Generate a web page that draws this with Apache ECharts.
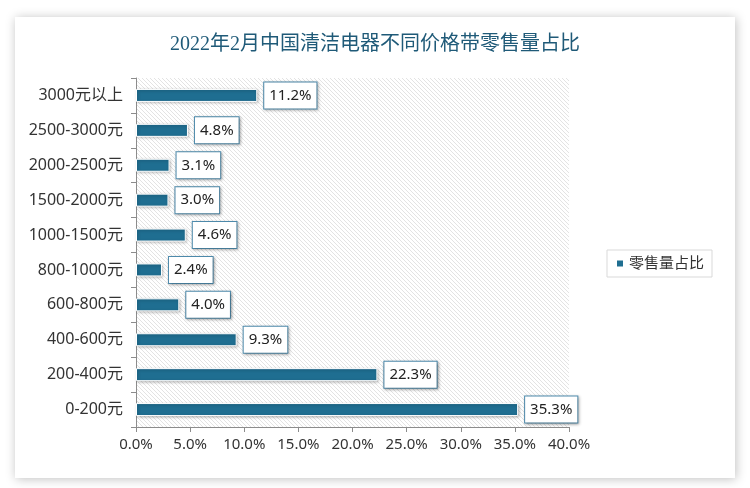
<!DOCTYPE html>
<html><head><meta charset="utf-8">
<script src="https://cdn.jsdelivr.net/npm/echarts@6/dist/echarts.min.js"></script>
<style>html,body{margin:0;padding:0;background:#fff}#c{width:750px;height:488px}</style>
</head><body><div id="c"></div>
<script>
const categories = ['0-200元','200-400元','400-600元','600-800元','800-1000元','1000-1500元','1500-2000元','2000-2500元','2500-3000元','3000元以上'];
const values = [35.3, 22.3, 9.3, 4.0, 2.4, 4.6, 3.0, 3.1, 4.8, 11.2];
const xTicks = [0, 5, 10, 15, 20, 25, 30, 35, 40];
const seriesName = '零售量占比';
const titleText = '2022年2月中国清洁电器不同价格带零售量占比';

const pc = document.createElement('canvas');
pc.width = 4; pc.height = 4;
const g = pc.getContext('2d');
g.fillStyle = '#ffffff'; g.fillRect(0,0,4,4);
g.strokeStyle = '#e3e3e3'; g.lineWidth = 1;
g.beginPath();
for (let k = -4; k <= 8; k += 4) { g.moveTo(k, 0); g.lineTo(k + 4, 4); }
g.stroke();

const font = "'Noto Sans','Noto Sans CJK SC',sans-serif";
const chart = echarts.init(document.getElementById('c'));
chart.setOption({
  animation: false,
  backgroundColor: '#ffffff',
  graphic: [{
    type: 'rect', z: -10, shape: {x: 15, y: 17, width: 720, height: 461},
    style: {fill: '#ffffff', shadowBlur: 10, shadowColor: 'rgba(0,0,0,0.25)', shadowOffsetX: 1, shadowOffsetY: 1}
  }],
  title: {
    text: titleText, left: 'center', top: 30,
    textStyle: {fontFamily: "'Liberation Serif','Noto Sans CJK SC',serif", fontSize: 20, fontWeight: 'normal', color: '#1f5a78'}
  },
  legend: {
    orient: 'vertical', left: 607, top: 250, padding: [6, 8],
    borderColor: '#d9d9d9', borderWidth: 1,
    icon: 'rect', itemWidth: 8, itemHeight: 8, itemGap: 4,
    textStyle: {fontFamily: font, fontSize: 15, color: '#333'},
    data: [seriesName]
  },
  grid: {left: 136, right: 181, top: 78, bottom: 61, show: true, borderWidth: 0,
    backgroundColor: {image: pc, repeat: 'repeat'}},
  xAxis: {
    type: 'value', min: 0, max: 40, interval: 5,
    axisLine: {show: true, lineStyle: {color: '#8c8c8c'}},
    axisTick: {show: true, length: 5, lineStyle: {color: '#8c8c8c'}},
    splitLine: {show: false},
    axisLabel: {fontFamily: font, fontSize: 15, color: '#333', margin: 10,
      formatter: v => xTicks.includes(v) ? v.toFixed(1) + '%' : ''}
  },
  yAxis: {
    type: 'category', data: categories,
    axisLine: {show: true, lineStyle: {color: '#8c8c8c'}},
    axisTick: {show: true, length: 5, lineStyle: {color: '#8c8c8c'}},
    axisLabel: {fontFamily: font, fontSize: 16, color: '#333', margin: 13}
  },
  series: [{
    name: seriesName, type: 'bar', data: values, barWidth: 13,
    itemStyle: {color: '#1f6e91', borderColor: '#ffffff', borderWidth: 1,
      shadowBlur: 3, shadowColor: 'rgba(0,0,0,0.3)', shadowOffsetX: 1, shadowOffsetY: 1},
    label: {
      show: true, position: 'right', distance: 7,
      formatter: p => p.value.toFixed(1) + '%',
      fontFamily: font, fontSize: 15, color: '#222',
      backgroundColor: '#ffffff', borderColor: '#4f8daf', borderWidth: 1,
      padding: [6, 5, 5, 5],
      shadowBlur: 3, shadowColor: 'rgba(0,0,0,0.3)', shadowOffsetX: 1, shadowOffsetY: 1
    }
  }]
});
</script></body></html>
